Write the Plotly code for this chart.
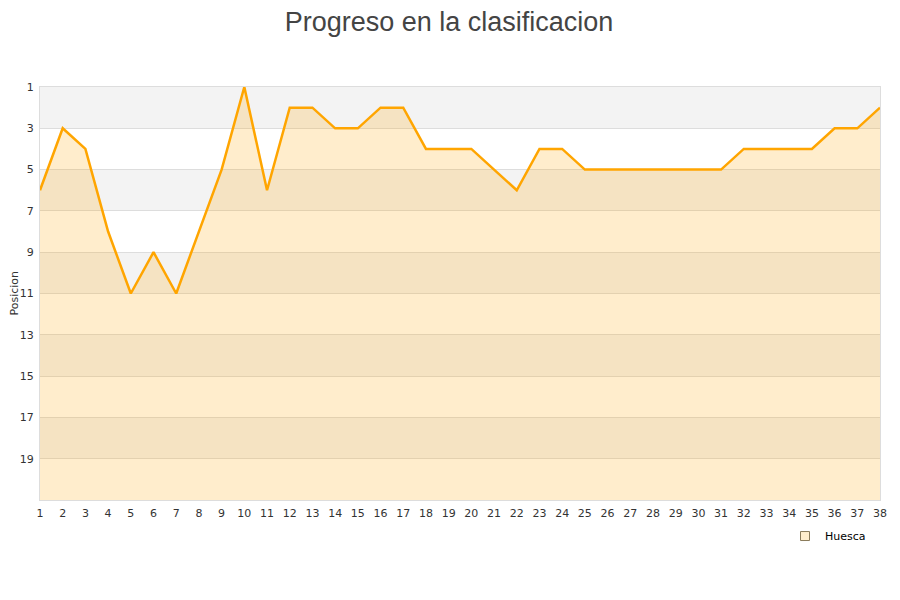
import plotly.graph_objects as go

jornadas = list(range(1, 39))
posiciones = [6, 3, 4, 8, 11, 9, 11, 8, 5, 1, 6, 2, 2, 3, 3, 2, 2, 4, 4, 4,
              5, 6, 4, 4, 5, 5, 5, 5, 5, 5, 5, 4, 4, 4, 4, 3, 3, 2]
equipo = "Huesca"
y_ticks = [1, 3, 5, 7, 9, 11, 13, 15, 17, 19]
bands = [(1, 3), (5, 7), (9, 11), (13, 15), (17, 19)]

fig = go.Figure()
fig.add_trace(go.Scatter(x=jornadas, y=[21] * len(jornadas), mode="lines",
                         line=dict(width=0), showlegend=False, hoverinfo="skip"))
fig.add_trace(go.Scatter(x=jornadas, y=posiciones, mode="lines", fill="tonexty",
                         fillcolor="rgba(255,165,0,0.2)",
                         line=dict(color="#FFA500", width=2.5),
                         name=equipo, showlegend=False))
fig.add_trace(go.Scatter(x=[None], y=[None], mode="markers", name=equipo,
                         marker=dict(symbol="square", size=9,
                                     color="rgba(255,165,0,0.2)",
                                     line=dict(color="#8a7a5a", width=1))))

shapes = []
for a, b in bands:
    shapes.append(dict(type="rect", xref="paper", yref="y", x0=0, x1=1, y0=a, y1=b,
                       fillcolor="#f3f3f3", line=dict(width=0), layer="below"))

PW = 840
PH = 413
fig.update_layout(
    width=900, height=600,
    paper_bgcolor="white", plot_bgcolor="white",
    margin=dict(l=32, r=28, t=79, b=108, autoexpand=False),
    title=dict(text="Progreso en la clasificacion", x=441 / 900, xanchor="center",
               y=1 - 4 / 600, yanchor="top",
               font=dict(family="Liberation Sans, Arial", size=27, color="#444")),
    font=dict(family="DejaVu Sans", size=11, color="#333"),
    shapes=shapes,
    annotations=[dict(text="Posicion", xref="paper", yref="paper", x=-26 / PW,
                      y=0.5, xanchor="center", yanchor="middle", textangle=-90,
                      showarrow=False, font=dict(size=11, color="#333"))],
    xaxis=dict(range=[1, 38], tickmode="array", tickvals=jornadas, automargin=False,
               showgrid=False, zeroline=False, showline=True, linecolor="#ddd",
               mirror=True, ticks="outside", ticklen=3, tickcolor="rgba(0,0,0,0)",
               tickfont=dict(size=11, color="#333")),
    yaxis=dict(range=[21, 1], tickmode="array", tickvals=y_ticks, automargin=False,
               showgrid=True, gridcolor="#dddddd", zeroline=False,
               showline=True, linecolor="#ddd", mirror=True, ticks="",
               ticklabelstandoff=3,
               tickfont=dict(size=11, color="#333")),
    legend=dict(x=1 - 9 / PW, y=-0.04 - 5 / PH, xanchor="right", yanchor="top",
                font=dict(size=11, color="#000"), bgcolor="rgba(0,0,0,0)"),
    showlegend=True,
)

fig.write_html("out.html")
